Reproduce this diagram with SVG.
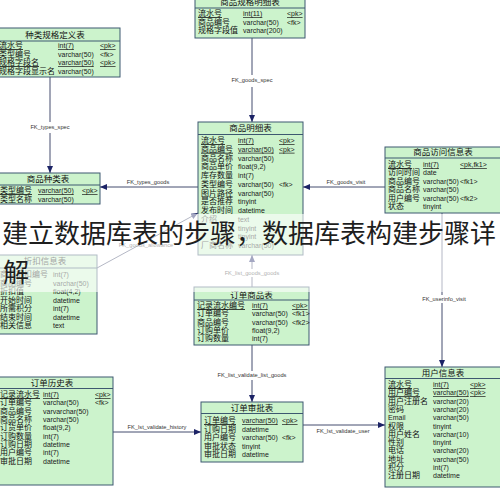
<svg xmlns="http://www.w3.org/2000/svg" width="500" height="490" viewBox="0 0 500 490">
<defs>
<style>
.t{fill:#ccf3cc;stroke:#3d5870;stroke-width:1}
.s{stroke:#3d5870;stroke-width:1}
.h{font-family:"Noto Sans CJK SC",sans-serif;font-size:8.5px;fill:#111;text-anchor:middle}
.n{font-family:"Noto Sans CJK SC",sans-serif;font-size:8px;fill:#111}
.y{font-family:"Liberation Sans",Arial,sans-serif;font-size:7px;fill:#1a1a1a}
.u{text-decoration:underline}
.c{stroke:#454d6e;stroke-width:1;fill:none}
.l{font-family:"Liberation Sans",Arial,sans-serif;font-size:5.7px;fill:#333;text-anchor:middle}
.w{font-family:"Noto Sans CJK SC",sans-serif;font-size:26px;fill:#1e1e1e}
</style>
<marker id="a" markerWidth="8" markerHeight="6" refX="7" refY="3" orient="auto" markerUnits="userSpaceOnUse"><path d="M0,0 L7,3 L0,6 Z" fill="#1c2366"/></marker>
</defs>
<rect width="500" height="490" fill="#fff"/>

<g id="connectors">
<path class="c" d="M252,38 V75 M252,87 V122" marker-end="url(#a)"/>
<text class="l" x="252" y="82">FK_goods_spec</text>
<path class="c" d="M50,77 V122 M50,133 V173" marker-end="url(#a)"/>
<text class="l" x="50" y="129">FK_types_spec</text>
<path class="c" d="M198,187 H100" marker-end="url(#a)"/>
<text class="l" x="148" y="184">FK_types_goods</text>
<path class="c" d="M385,187 H303" marker-end="url(#a)"/>
<text class="l" x="346" y="184">FK_goods_visit</text>
<path class="c" d="M97,268 L198,213" marker-end="url(#a)"/>
<text class="l" x="146" y="247">FK_goods_allowance</text>
<path class="c" d="M252,287 V277 M252,269 V255" marker-end="url(#a)"/>
<text class="l" x="252" y="275">FK_list_goods_goods</text>
<path class="c" d="M252,345 V371 M252,380 V402" marker-end="url(#a)"/>
<text class="l" x="252" y="377">FK_list_validate_list_goods</text>
<path class="c" d="M113,432 H201" marker-end="url(#a)"/>
<text class="l" x="157" y="429">FK_lst_validate_history</text>
<path class="c" d="M303,425 H385" marker-end="url(#a)"/>
<text class="l" x="343" y="433">FK_lst_validate_user</text>
<path class="c" d="M442,213 V295 M442,303 V367" marker-end="url(#a)"/>
<text class="l" x="444" y="301">FK_userinfo_visit</text>
</g>

<g id="spec_def">
<rect class="t" x="-10" y="28" width="130" height="49"/>
<line class="s" x1="-10" y1="41" x2="120" y2="41"/>
<text class="h" x="55" y="38">种类规格定义表</text>
<text class="n u" x="-1" y="48">流水号</text><text class="y u" x="58" y="48">int(7)</text><text class="y u" x="100" y="48">&lt;pk&gt;</text>
<text class="n" x="-1" y="56.5">类型编号</text><text class="y" x="58" y="56.5">varchar(50)</text><text class="y" x="100" y="56.5">&lt;fk&gt;</text>
<text class="n u" x="-1" y="65">规格字段名</text><text class="y u" x="58" y="65">varchar(50)</text><text class="y u" x="100" y="65">&lt;pk&gt;</text>
<text class="n" x="-1" y="73.5">规格字段显示名</text><text class="y" x="58" y="73.5">varchar(50)</text>
</g>

<g id="spec_detail">
<rect class="t" x="195" y="-5" width="110" height="43"/>
<line class="s" x1="195" y1="8" x2="305" y2="8"/>
<text class="h" x="250" y="5">商品规格明细表</text>
<text class="n u" x="198" y="16">流水号</text><text class="y u" x="243" y="16">int(11)</text><text class="y u" x="287" y="16">&lt;pk&gt;</text>
<text class="n" x="198" y="24.5">商品编号</text><text class="y" x="243" y="24.5">varchar(50)</text><text class="y" x="287" y="24.5">&lt;fk&gt;</text>
<text class="n" x="198" y="33">规格字段值</text><text class="y" x="243" y="33">varchar(200)</text>
</g>

<g id="goods_detail">
<rect class="t" x="198" y="122" width="105" height="133"/>
<line class="s" x1="198" y1="134.5" x2="303" y2="134.5"/>
<text class="h" x="250.5" y="131">商品明细表</text>
<text class="n u" x="201" y="143">流水号</text><text class="y u" x="238" y="143">int(7)</text><text class="y u" x="279" y="143">&lt;pk&gt;</text>
<text class="n u" x="201" y="151.75">商品编号</text><text class="y u" x="238" y="151.75">varchar(50)</text><text class="y u" x="279" y="151.75">&lt;pk&gt;</text>
<text class="n" x="201" y="160.5">商品名称</text><text class="y" x="238" y="160.5">varchar(50)</text>
<text class="n" x="201" y="169.25">商品单价</text><text class="y" x="238" y="169.25">float(9,2)</text>
<text class="n" x="201" y="178">库存数量</text><text class="y" x="238" y="178">int(7)</text>
<text class="n" x="201" y="186.75">类型编号</text><text class="y" x="238" y="186.75">varchar(50)</text><text class="y" x="279" y="186.75">&lt;fk&gt;</text>
<text class="n" x="201" y="195.5">图片路径</text><text class="y" x="238" y="195.5">varchar(50)</text>
<text class="n" x="201" y="204.25">是否推荐</text><text class="y" x="238" y="204.25">tinyint</text>
<text class="n" x="201" y="213">发布时间</text><text class="y" x="238" y="213">datetime</text>
<text class="n" x="201" y="221.75">介绍</text><text class="y" x="238" y="221.75">text</text>
<text class="y" x="238" y="230.5">tinyint</text>
<text class="y" x="238" y="239.25">tinyint</text>
<text class="n" x="201" y="248">厂商名称</text><text class="y" x="238" y="248">varchar(50)</text>
</g>

<g id="goods_visit">
<rect class="t" x="385" y="147" width="120" height="66"/>
<line class="s" x1="385" y1="158" x2="505" y2="158"/>
<text class="h" x="443" y="155">商品访问信息表</text>
<text class="n u" x="388" y="167">流水号</text><text class="y u" x="423" y="167">int(7)</text><text class="y u" x="460" y="167">&lt;pk,fk1&gt;</text>
<text class="n" x="388" y="175.4">访问时间</text><text class="y" x="423" y="175.4">date</text>
<text class="n" x="388" y="183.8">商品编号</text><text class="y" x="423" y="183.8">varchar(50)</text><text class="y" x="460" y="183.8">&lt;fk1&gt;</text>
<text class="n" x="388" y="192.2">商品名称</text><text class="y" x="423" y="192.2">varchar(50)</text>
<text class="n" x="388" y="200.6">用户编号</text><text class="y" x="423" y="200.6">varchar(50)</text><text class="y" x="460" y="200.6">&lt;fk2&gt;</text>
<text class="n" x="388" y="209">状态</text><text class="y" x="423" y="209">tinyint</text>
</g>

<g id="goods_types">
<rect class="t" x="-4" y="173" width="104" height="31"/>
<line class="s" x1="-4" y1="185" x2="100" y2="185"/>
<text class="h" x="48" y="182">商品种类表</text>
<text class="n u" x="0" y="193">类型编号</text><text class="y u" x="38" y="193">varchar(50)</text><text class="y u" x="82" y="193">&lt;pk&gt;</text>
<text class="n" x="0" y="201.5">类型名称</text><text class="y" x="38" y="201.5">varchar(50)</text>
</g>

<g id="allowance">
<rect class="t" x="-7" y="255" width="104" height="79"/>
<line class="s" x1="-7" y1="268" x2="97" y2="268"/>
<text class="h" x="45" y="264">折扣信息表</text>
<text class="n" x="0" y="277">商品折扣编号</text><text class="y" x="53" y="277">int(7)</text>
<text class="n" x="0" y="285.5">商品编号</text><text class="y" x="53" y="285.5">varchar(50)</text>
<text class="n" x="0" y="294">折扣值</text><text class="y" x="53" y="294">float(4,2)</text>
<text class="n" x="0" y="302.5">开始时间</text><text class="y" x="53" y="302.5">datetime</text>
<text class="n" x="0" y="311">所需积分</text><text class="y" x="53" y="311">int(7)</text>
<text class="n" x="0" y="319.5">结束时间</text><text class="y" x="53" y="319.5">datetime</text>
<text class="n" x="0" y="328">相关信息</text><text class="y" x="53" y="328">text</text>
</g>

<g id="list_goods">
<rect class="t" x="194" y="287" width="115" height="58"/>
<line class="s" x1="194" y1="300" x2="309" y2="300"/>
<text class="h" x="251.5" y="297.5">订单商品表</text>
<text class="n u" x="197" y="308">记录流水编号</text><text class="y u" x="252" y="308">int(7)</text><text class="y u" x="292" y="308">&lt;pk&gt;</text>
<text class="n" x="197" y="316.3">订单编号</text><text class="y" x="252" y="316.3">varchar(50)</text><text class="y" x="292" y="316.3">&lt;fk1&gt;</text>
<text class="n" x="197" y="324.6">商品编号</text><text class="y" x="252" y="324.6">varchar(50)</text><text class="y" x="292" y="324.6">&lt;fk2&gt;</text>
<text class="n" x="197" y="333">订购单价</text><text class="y" x="252" y="333">float(9,2)</text>
<text class="n" x="197" y="341.3">订购数量</text><text class="y" x="252" y="341.3">int(7)</text>
</g>

<g id="list_validate">
<rect class="t" x="201" y="402" width="102" height="60"/>
<line class="s" x1="201" y1="413.5" x2="303" y2="413.5"/>
<text class="h" x="252" y="411">订单审批表</text>
<text class="n u" x="204" y="423">订单编号</text><text class="y u" x="242" y="423">varchar(50)</text><text class="y u" x="282" y="423">&lt;pk&gt;</text>
<text class="n" x="204" y="431.5">订购日期</text><text class="y" x="242" y="431.5">datetime</text>
<text class="n" x="204" y="440">用户编号</text><text class="y" x="242" y="440">varchar(50)</text><text class="y" x="282" y="440">&lt;fk&gt;</text>
<text class="n" x="204" y="448.5">审批状态</text><text class="y" x="242" y="448.5">tinyint</text>
<text class="n" x="204" y="457">审批日期</text><text class="y" x="242" y="457">datetime</text>
</g>

<g id="list_history">
<rect class="t" x="-9" y="377" width="122" height="108"/>
<line class="s" x1="-9" y1="388.5" x2="113" y2="388.5"/>
<text class="h" x="52" y="386">订单历史表</text>
<text class="n u" x="0" y="397">记录流水号</text><text class="y u" x="43" y="397">int(7)</text><text class="y u" x="95" y="397">&lt;pk&gt;</text>
<text class="n" x="0" y="405.3">订单编号</text><text class="y" x="43" y="405.3">varchar(50)</text><text class="y" x="95" y="405.3">&lt;fk&gt;</text>
<text class="n" x="0" y="413.6">商品编号</text><text class="y" x="43" y="413.6">varvarchar(50)</text>
<text class="n" x="0" y="422">商品名称</text><text class="y" x="43" y="422">varchar(50)</text>
<text class="n" x="0" y="430.3">订货单价</text><text class="y" x="43" y="430.3">float(9,2)</text>
<text class="n" x="0" y="438.6">订购数量</text><text class="y" x="43" y="438.6">int(7)</text>
<text class="n" x="0" y="447">订购日期</text><text class="y" x="43" y="447">datetime</text>
<text class="n" x="0" y="455.3">用户编号</text><text class="y" x="43" y="455.3">int(7)</text>
<text class="n" x="0" y="463.6">审批日期</text><text class="y" x="43" y="463.6">datetime</text>
</g>

<g id="userinfo">
<rect class="t" x="385" y="367" width="120" height="120"/>
<line class="s" x1="385" y1="378.5" x2="505" y2="378.5"/>
<text class="h" x="443" y="376">用户信息表</text>
<text class="n u" x="388" y="387">流水号</text><text class="y u" x="433" y="387">int(7)</text><text class="y u" x="470" y="387">&lt;pk&gt;</text>
<text class="n u" x="388" y="395.3">用户编号</text><text class="y u" x="433" y="395.3">varchar(50)</text><text class="y u" x="470" y="395.3">&lt;pk&gt;</text>
<text class="n" x="388" y="403.6">用户注册名</text><text class="y" x="433" y="403.6">varchar(20)</text>
<text class="n" x="388" y="411.9">密码</text><text class="y" x="433" y="411.9">varchar(20)</text>
<text class="y" x="388" y="420.2">Email</text><text class="y" x="433" y="420.2">varchar(50)</text>
<text class="n" x="388" y="428.5">权限</text><text class="y" x="433" y="428.5">tinyint</text>
<text class="n" x="388" y="436.8">用户姓名</text><text class="y" x="433" y="436.8">varchar(10)</text>
<text class="n" x="388" y="445.1">性别</text><text class="y" x="433" y="445.1">tinyint</text>
<text class="n" x="388" y="453.4">电话</text><text class="y" x="433" y="453.4">varchar(20)</text>
<text class="n" x="388" y="461.7">地址</text><text class="y" x="433" y="461.7">varchar(50)</text>
<text class="n" x="388" y="470">积分</text><text class="y" x="433" y="470">int(7)</text>
<text class="n" x="388" y="478.3">注册日期</text><text class="y" x="433" y="478.3">datetime</text>
</g>

<g id="watermark">
<rect x="0" y="214" width="500" height="78" fill="#fff" fill-opacity="0.6"/>
<text class="w" x="2" y="243">建立数据库表的步骤，数据库表构建步骤详</text>
<text class="w" x="3" y="282">解</text>
</g>
</svg>
